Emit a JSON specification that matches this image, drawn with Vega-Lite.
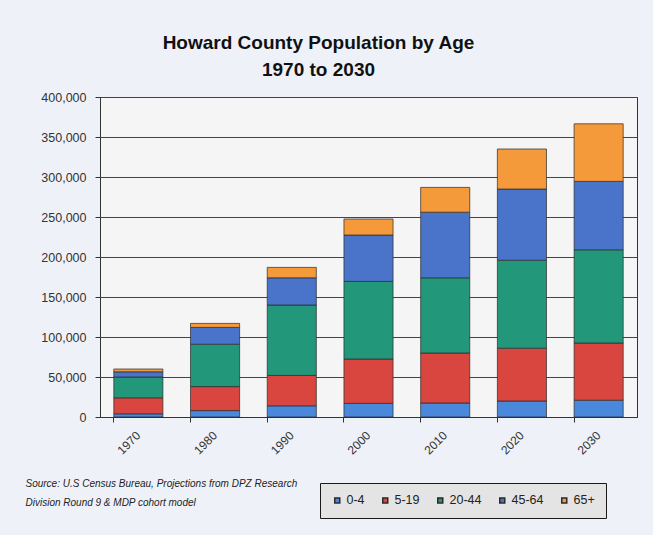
{
  "$schema": "https://vega.github.io/schema/vega-lite/v6.json",
  "width": 537,
  "height": 320,
  "autosize": {"type": "none"},
  "padding": {"left": 100, "top": 97, "right": 16, "bottom": 118},
  "background": "#eef2f8",
  "title": {
    "text": ["Howard County Population by Age", "1970 to 2030"],
    "font": "Liberation Sans",
    "fontSize": 19,
    "fontWeight": "bold",
    "color": "#111111",
    "lineHeight": 27,
    "anchor": "middle",
    "dx": -50,
    "offset": 11
  },
  "data": {
    "values": [
      {"year": "1970", "age": "0-4", "k": 1, "pop": 4000},
      {"year": "1970", "age": "5-19", "k": 2, "pop": 20000},
      {"year": "1970", "age": "20-44", "k": 3, "pop": 26000},
      {"year": "1970", "age": "45-64", "k": 4, "pop": 6500},
      {"year": "1970", "age": "65+", "k": 5, "pop": 3500},
      {"year": "1980", "age": "0-4", "k": 1, "pop": 8000},
      {"year": "1980", "age": "5-19", "k": 2, "pop": 30000},
      {"year": "1980", "age": "20-44", "k": 3, "pop": 53000},
      {"year": "1980", "age": "45-64", "k": 4, "pop": 21000},
      {"year": "1980", "age": "65+", "k": 5, "pop": 5000},
      {"year": "1990", "age": "0-4", "k": 1, "pop": 14000},
      {"year": "1990", "age": "5-19", "k": 2, "pop": 38000},
      {"year": "1990", "age": "20-44", "k": 3, "pop": 88000},
      {"year": "1990", "age": "45-64", "k": 4, "pop": 34000},
      {"year": "1990", "age": "65+", "k": 5, "pop": 13000},
      {"year": "2000", "age": "0-4", "k": 1, "pop": 17000},
      {"year": "2000", "age": "5-19", "k": 2, "pop": 55500},
      {"year": "2000", "age": "20-44", "k": 3, "pop": 97000},
      {"year": "2000", "age": "45-64", "k": 4, "pop": 58000},
      {"year": "2000", "age": "65+", "k": 5, "pop": 20000},
      {"year": "2010", "age": "0-4", "k": 1, "pop": 17500},
      {"year": "2010", "age": "5-19", "k": 2, "pop": 62500},
      {"year": "2010", "age": "20-44", "k": 3, "pop": 94000},
      {"year": "2010", "age": "45-64", "k": 4, "pop": 82000},
      {"year": "2010", "age": "65+", "k": 5, "pop": 31000},
      {"year": "2020", "age": "0-4", "k": 1, "pop": 20000},
      {"year": "2020", "age": "5-19", "k": 2, "pop": 66000},
      {"year": "2020", "age": "20-44", "k": 3, "pop": 110000},
      {"year": "2020", "age": "45-64", "k": 4, "pop": 89000},
      {"year": "2020", "age": "65+", "k": 5, "pop": 50000},
      {"year": "2030", "age": "0-4", "k": 1, "pop": 21000},
      {"year": "2030", "age": "5-19", "k": 2, "pop": 71500},
      {"year": "2030", "age": "20-44", "k": 3, "pop": 116500},
      {"year": "2030", "age": "45-64", "k": 4, "pop": 85500},
      {"year": "2030", "age": "65+", "k": 5, "pop": 72000}
    ]
  },
  "mark": {"type": "bar", "stroke": "#2a2a2a", "strokeWidth": 1, "strokeOpacity": 0.7},
  "encoding": {
    "x": {
      "field": "year",
      "type": "nominal",
      "sort": null,
      "scale": {"paddingInner": 0.36, "paddingOuter": 0.18},
      "axis": {
        "bandPosition": 0,
        "labelOffset": 0,
        "labelAngle": -45,
        "labelAlign": "right",
        "labelBaseline": "middle",
        "labelFont": "Liberation Sans",
        "labelFontSize": 12,
        "labelColor": "#333333",
        "labelPadding": 11,
        "tickSize": 5,
        "tickColor": "#333333",
        "domainColor": "#333333",
        "title": ["Source:  U.S Census Bureau, Projections from DPZ Research", "Division Round 9 & MDP cohort model"],
        "titleFont": "Liberation Sans",
        "titleFontSize": 10,
        "titleFontStyle": "italic",
        "titleFontWeight": "normal",
        "titleColor": "#222222",
        "titleAlign": "left",
        "titleAnchor": "start",
        "titleBaseline": "middle",
        "titleLineHeight": 19,
        "titleX": -75,
        "titleY": 66
      }
    },
    "y": {
      "field": "pop",
      "type": "quantitative",
      "stack": "zero",
      "scale": {"domain": [0, 400000], "nice": false},
      "axis": {
        "values": [0, 50000, 100000, 150000, 200000, 250000, 300000, 350000, 400000],
        "format": ",.0f",
        "title": null,
        "labelFont": "Liberation Sans",
        "labelFontSize": 12.5,
        "labelColor": "#333333",
        "labelPadding": 9,
        "tickSize": 5,
        "tickColor": "#333333",
        "domainColor": "#333333",
        "grid": true,
        "gridColor": "#444444",
        "gridWidth": 1
      }
    },
    "color": {
      "field": "age",
      "type": "nominal",
      "scale": {
        "domain": ["0-4", "5-19", "20-44", "45-64", "65+"],
        "range": ["#4a88dc", "#d9463f", "#22977a", "#4a74c9", "#f59a3b"]
      },
      "legend": {
        "title": null,
        "orient": "none",
        "legendX": 220,
        "legendY": 386,
        "direction": "horizontal",
        "fillColor": "#e4e4e4",
        "strokeColor": "#1a1a1a",
        "padding": 11,
        "columnPadding": 14,
        "symbolType": "square",
        "symbolSize": 25,
        "labelOffset": 3,
        "labelFont": "Liberation Sans",
        "labelFontSize": 12.5,
        "labelColor": "#222222"
      }
    },
    "order": {"field": "k", "type": "quantitative"}
  },
  "config": {
    "view": {"fill": "#f5f5f5", "stroke": "#333333", "strokeWidth": 1}
  }
}
